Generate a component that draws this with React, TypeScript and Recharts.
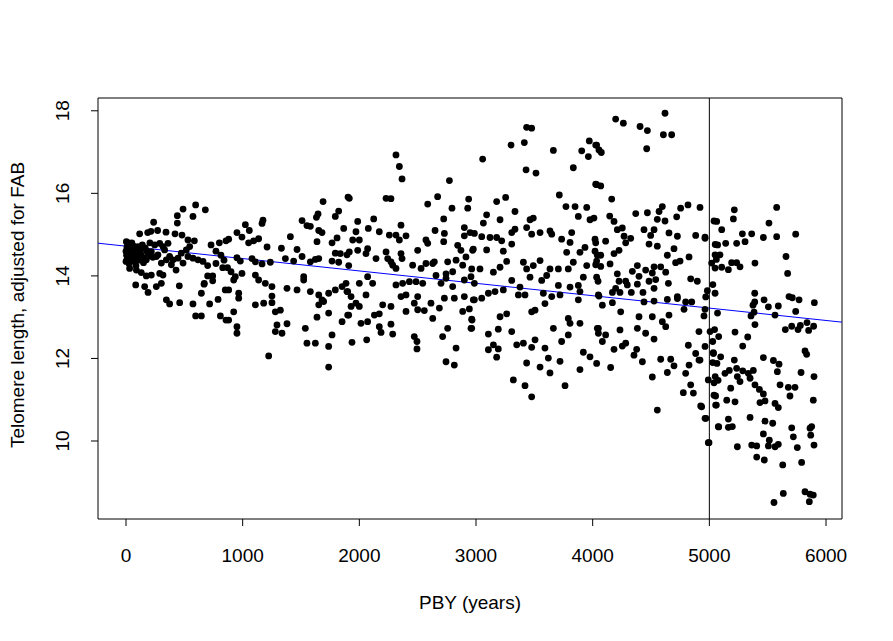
import React from 'react';
import {
  ScatterChart,
  Scatter,
  XAxis,
  YAxis,
  ReferenceLine,
  ReferenceArea,
  Label,
} from 'recharts';

// [PBY (years), telomere length adjusted for FAB]
const nearZero: [number, number][] = [
  [0, 14.35], [0, 14.6], [5, 14.5], [8, 14.7], [10, 14.4], [12, 14.65], [15, 14.55], [20, 14.45],
  [22, 14.8], [25, 14.3], [28, 14.62], [35, 14.5], [38, 14.68], [42, 14.38], [50, 14.8], [55, 14.45],
  [65, 14.72], [70, 14.35], [80, 14.58], [85, 14.25], [90, 14.66], [95, 14.5], [110, 14.38], [125, 14.62],
  [140, 14.75], [150, 14.32], [165, 14.68], [180, 14.6], [195, 14.48], [205, 14.8], [230, 14.45],
  [3, 14.83], [17, 14.79], [31, 14.75], [46, 14.63], [60, 14.59], [74, 14.55], [103, 14.71], [117, 14.47],
  [131, 14.51], [160, 14.43], [174, 14.39], [189, 14.55], [217, 14.59], [246, 14.75], [260, 14.47],
  [274, 14.51], [289, 14.79], [303, 14.31], [317, 14.71], [331, 14.63], [346, 14.39], [360, 14.79],
  [374, 14.47], [389, 14.27], [403, 14.39], [446, 14.43], [474, 14.55], [489, 14.31], [517, 14.63],
  [531, 14.47], [546, 14.71], [574, 14.43], [617, 14.39], [660, 14.35],
];

const firstMillennium: [number, number][] = [
  [597, 15.72], [680, 15.6], [489, 15.62], [574, 15.44], [440, 15.46], [440, 15.28], [237, 15.3],
  [117, 15.02], [186, 15.05], [214, 15.08], [271, 15.1], [343, 15.06], [420, 15.02], [480, 14.99],
  [586, 14.85], [531, 14.87], [729, 14.75], [800, 14.8], [857, 14.85], [771, 14.6], [814, 14.5],
  [700, 14.25], [771, 14.3], [829, 14.2], [700, 14.0], [743, 14.0], [743, 13.88], [671, 13.82],
  [457, 13.76], [83, 13.78], [160, 13.74], [189, 13.6], [260, 13.74], [303, 13.82], [174, 14.0],
  [217, 14.02], [289, 14.06], [317, 14.02], [31, 14.18], [89, 14.14], [131, 14.08], [429, 14.14],
  [346, 13.42], [374, 13.32], [460, 13.35], [574, 13.32], [717, 13.32], [789, 13.43], [646, 13.58],
  [669, 13.8], [597, 13.03], [646, 13.03], [809, 13.03], [857, 12.93],
];

const secondMillennium: [number, number][] = [
  [1903, 15.91], [1689, 15.8], [1823, 15.57], [1794, 15.44], [1646, 15.5], [1632, 15.42], [1509, 15.34],
  [1551, 15.22], [1580, 15.2], [1174, 15.35], [1166, 15.27], [1023, 15.24], [951, 15.05], [1057, 15.1],
  [880, 14.89], [994, 14.94], [1051, 14.8], [1094, 14.85], [1137, 14.9], [1209, 14.7], [1332, 14.67],
  [1466, 14.64], [1409, 14.95], [1652, 15.1], [1680, 15.05], [1637, 14.83], [1766, 14.8], [1809, 14.92],
  [1866, 15.15], [1794, 14.55], [1837, 14.54], [1894, 14.51], [840, 14.38], [870, 14.2], [900, 14.1],
  [951, 14.44], [980, 14.36], [1080, 14.42], [1109, 14.34], [1166, 14.29], [1237, 14.33], [1366, 14.42],
  [1437, 14.36], [1509, 14.47], [1580, 14.34], [1623, 14.4], [1652, 14.42], [1766, 14.36], [1823, 14.33],
  [1909, 14.25], [937, 13.98], [994, 14.06], [923, 13.9], [1109, 14.02], [1137, 13.9], [1194, 13.82],
  [1251, 13.74], [1380, 13.7], [1466, 13.66], [1523, 13.9], [1523, 13.98], [1580, 13.62], [1652, 13.54],
  [1680, 13.42], [1652, 13.3], [1694, 13.38], [1737, 13.58], [1794, 13.66], [1852, 13.74], [1894, 13.62],
  [851, 13.66], [880, 13.66], [966, 13.58], [966, 13.46], [1251, 13.51], [1109, 13.3], [1180, 13.34],
  [1251, 13.35], [1280, 13.13], [1323, 13.17], [923, 13.13], [880, 12.93], [951, 12.77], [951, 12.61],
  [1294, 12.81], [1280, 12.65], [1337, 12.61], [1380, 12.84], [1537, 12.73], [1551, 12.37], [1623, 12.37],
  [1737, 12.29], [1766, 12.57], [1852, 12.89], [1909, 13.05], [1737, 13.1], [1637, 13.0], [1223, 12.06],
  [1737, 11.79],
];

const thirdMillennium: [number, number][] = [
  [2314, 16.93], [2343, 16.65], [2366, 16.35], [2772, 16.31], [1914, 15.88], [2229, 15.88], [2271, 15.87],
  [2586, 15.74], [2671, 15.92], [2794, 15.64], [2929, 15.64], [2937, 15.86], [2723, 15.38], [2900, 15.17],
  [2986, 15.03], [1986, 15.32], [2123, 15.38], [2077, 15.15], [1971, 15.07], [2000, 14.87], [1943, 14.87],
  [2171, 15.07], [2257, 14.99], [2314, 14.99], [2357, 15.23], [2400, 14.97], [2343, 14.87], [2649, 15.1],
  [2729, 15.03], [2723, 14.83], [2571, 14.87], [2586, 14.79], [2843, 14.74], [2900, 14.97], [2871, 14.62],
  [2914, 14.46], [2971, 14.62], [1914, 14.58], [1986, 14.62], [2071, 14.66], [2057, 14.54], [2143, 14.42],
  [2229, 14.58], [2243, 14.42], [2357, 14.54], [2366, 14.42], [2271, 14.34], [2286, 14.26], [2314, 14.18],
  [2500, 14.62], [2457, 14.26], [2529, 14.18], [2571, 14.3], [2643, 14.34], [2757, 14.34], [2829, 14.38],
  [2886, 14.26], [2800, 14.1], [2743, 14.05], [1886, 13.82], [1900, 13.62], [1929, 13.5], [1971, 13.34],
  [2000, 13.82], [2071, 13.98], [2114, 13.82], [2314, 13.78], [2371, 13.82], [2429, 13.86], [2486, 13.86],
  [2543, 13.82], [2629, 14.3], [2657, 14.01], [2700, 13.82], [2743, 13.94], [2800, 13.74], [2900, 13.9],
  [2957, 13.98], [2986, 13.82], [2057, 13.54], [2000, 13.26], [1929, 13.26], [1900, 13.05], [2200, 13.3],
  [2271, 13.26], [2357, 13.5], [2400, 13.54], [2500, 13.5], [2471, 13.34], [2614, 13.34], [2729, 13.46],
  [2814, 13.46], [2900, 13.5], [2986, 13.42], [2129, 13.05], [2171, 13.08], [2400, 13.14], [2500, 13.18],
  [2557, 13.16], [2686, 13.22], [2886, 13.14], [2943, 13.2], [2014, 12.85], [2071, 12.89], [2171, 12.77],
  [2271, 12.83], [2286, 12.59], [2186, 12.63], [2471, 12.53], [2494, 12.41], [2494, 12.23], [2629, 12.97],
  [2714, 12.53], [2757, 12.73], [2829, 12.25], [2743, 11.92], [2814, 11.84], [2957, 12.73], [2966, 12.93],
  [1937, 12.39], [2063, 12.45],
];

const fourthMillennium: [number, number][] = [
  [3434, 17.6], [3477, 17.58], [3300, 17.17], [3414, 17.23], [3057, 16.83], [3663, 17.04], [3971, 17.27],
  [4034, 17.17], [3906, 17.03], [3963, 16.89], [3429, 16.57], [3514, 16.49], [3834, 16.62], [4034, 16.21],
  [3714, 15.96], [3771, 15.68], [3849, 15.68], [3949, 15.66], [3877, 15.44], [3977, 15.36], [3177, 15.8],
  [3254, 15.9], [3334, 15.56], [3091, 15.48], [3063, 15.28], [3206, 15.36], [3463, 15.36], [3491, 15.4],
  [2949, 15.05], [3049, 14.95], [3120, 14.93], [3177, 14.93], [3220, 14.85], [3306, 15.05], [3334, 15.13],
  [3434, 15.17], [3477, 15.01], [3549, 15.05], [3634, 15.09], [3649, 15.01], [3734, 14.89], [3806, 14.81],
  [3820, 15.05], [3934, 14.69], [4020, 14.6], [4034, 14.36], [4020, 14.89], [2977, 14.65], [3091, 14.63],
  [3234, 14.6], [3306, 14.77], [3406, 14.33], [3434, 14.17], [3491, 14.25], [3549, 14.37], [3634, 14.17],
  [3706, 14.17], [3777, 14.57], [3791, 14.17], [3891, 14.57], [3834, 14.33], [3949, 14.25], [2963, 14.17],
  [3034, 14.17], [3149, 14.09], [3206, 14.21], [3263, 14.35], [3306, 13.89], [3377, 13.73], [3463, 13.97],
  [3563, 13.89], [3606, 14.01], [3706, 13.77], [3806, 13.73], [3877, 13.77], [3920, 13.97], [4034, 13.97],
  [2977, 13.42], [3049, 13.46], [3106, 13.58], [3163, 13.62], [3234, 13.66], [3363, 13.54], [3420, 13.54],
  [3577, 13.58], [3649, 13.5], [3720, 13.54], [3877, 13.42], [3891, 13.62], [4049, 13.54], [2963, 12.95],
  [3206, 13.01], [3263, 13.08], [3477, 13.13], [3506, 13.17], [3591, 13.33], [3791, 12.97], [3806, 12.85],
  [3891, 12.85], [4049, 12.73], [4049, 12.61], [3106, 12.59], [3191, 12.71], [3306, 12.65], [3349, 12.33],
  [3406, 12.37], [3477, 12.27], [3506, 12.45], [3591, 12.25], [3663, 12.73], [3734, 12.41], [3791, 12.57],
  [3920, 12.15], [3977, 12.04], [4034, 11.88], [3106, 12.21], [3149, 12.33], [3191, 12.23], [3177, 12.03],
  [3434, 11.89], [3549, 11.79], [3620, 12.01], [3634, 11.65], [3720, 11.93], [3891, 11.73], [3763, 11.34],
  [3477, 11.07], [3320, 11.48], [3420, 11.34], [2963, 12.73],
];

const fifthMillennium: [number, number][] = [
  [4620, 17.94], [4197, 17.8], [4263, 17.7], [4406, 17.62], [4469, 17.52], [4606, 17.42], [4677, 17.42],
  [4463, 17.08], [4026, 17.17], [4054, 17.05], [4074, 16.99], [4026, 16.22], [4069, 16.18], [4163, 15.86],
  [4369, 15.51], [4469, 15.53], [4569, 15.56], [4597, 15.68], [4754, 15.64], [4817, 15.72], [4920, 15.66],
  [4720, 15.43], [4620, 15.33], [4554, 15.37], [4011, 15.4], [4146, 15.45], [4183, 15.32], [4211, 15.12],
  [4254, 15.16], [4269, 14.96], [4283, 14.8], [4111, 14.84], [4026, 14.8], [4440, 15.12], [4526, 15.12],
  [4497, 14.98], [4654, 15.04], [4726, 14.96], [4883, 14.98], [4963, 14.94], [4554, 14.72], [4697, 14.66],
  [4640, 14.5], [4826, 14.46], [4711, 14.32], [4749, 14.36], [4326, 14.91], [4483, 14.77], [4040, 14.5],
  [4069, 14.5], [4183, 14.54], [4226, 14.62], [4149, 14.29], [4026, 14.27], [4069, 14.23], [4211, 14.05],
  [4383, 14.25], [4454, 14.14], [4526, 14.22], [4583, 14.22], [4626, 14.09], [4511, 14.07], [4540, 13.91],
  [4483, 13.87], [4397, 13.99], [4340, 14.11], [4283, 13.87], [4297, 13.78], [4226, 13.87], [4197, 13.7],
  [4046, 13.87], [4169, 13.6], [4234, 13.6], [4331, 13.6], [4431, 13.6], [4383, 13.8], [4526, 13.7],
  [4649, 13.82], [4840, 13.93], [4897, 13.87], [4726, 13.5], [4054, 13.51], [4083, 13.29], [4169, 13.35],
  [4440, 13.37], [4526, 13.39], [4640, 13.43], [4726, 13.45], [4797, 13.37], [4849, 13.37], [4783, 13.19],
  [4963, 13.19], [4983, 13.64], [4240, 13.13], [4397, 13.01], [4511, 13.01], [4597, 12.89], [4626, 12.77],
  [4654, 13.05], [4040, 12.73], [4111, 12.57], [4083, 12.41], [4234, 12.69], [4383, 12.73], [4454, 12.61],
  [4526, 12.47], [4183, 12.22], [4254, 12.3], [4283, 12.37], [4377, 12.22], [4354, 12.08], [4426, 11.92],
  [4583, 11.98], [4669, 11.98], [4697, 11.82], [4820, 12.32], [4826, 11.84], [4883, 12.12], [4911, 11.96],
  [4911, 12.65], [4154, 11.78], [4511, 11.55], [4640, 11.66], [4797, 11.64], [4840, 11.36], [4777, 11.17],
  [4863, 11.16], [4926, 10.85], [4554, 10.75], [4963, 10.55], [4991, 9.96],
];

const lastCentury: [number, number][] = [
  [5040, 15.33], [5050, 14.76], [5060, 14.4], [5030, 13.79], [5070, 13.1], [5045, 12.7], [5080, 12.53],
  [5035, 12.12], [5065, 11.88], [5050, 11.56], [5075, 11.47], [5040, 11.11], [5060, 10.87], [5080, 10.34],
  [5214, 15.6], [5206, 15.38], [5577, 15.66], [5063, 15.32], [5106, 15.12], [5511, 15.28], [5283, 15.02],
  [5363, 15.02], [5463, 14.93], [5577, 14.95], [5740, 15.01], [5071, 14.75], [5140, 14.79], [5234, 14.79],
  [5306, 14.83], [5049, 14.51], [5091, 14.51], [5657, 14.47], [5391, 14.31], [5191, 14.32], [5234, 14.32],
  [5263, 14.22], [5020, 14.31], [5049, 14.19], [5106, 14.21], [5163, 14.15], [5671, 14.06], [4963, 14.91],
  [5049, 13.58], [4969, 13.49], [5389, 13.58], [5389, 13.37], [5469, 13.42], [5374, 13.29], [5383, 13.12],
  [5506, 13.25], [5591, 13.27], [5563, 13.05], [5683, 13.5], [5711, 13.47], [5769, 13.42], [5740, 13.14],
  [5900, 13.35], [5357, 13.03], [5391, 12.82], [4954, 13.03], [5651, 12.7], [5706, 12.78], [5760, 12.7],
  [5780, 12.8], [5837, 12.87], [5894, 12.78], [5851, 12.68], [5220, 12.64], [5329, 12.52], [5286, 12.3],
  [5820, 12.18], [5834, 12.1], [5006, 12.65], [5029, 12.41], [4963, 12.29], [5034, 12.14], [5097, 12.04],
  [4920, 11.96], [5029, 11.9], [5214, 11.96], [5463, 12.02], [5549, 11.95], [5597, 11.86], [5583, 11.68],
  [5786, 11.66], [5897, 11.56], [5134, 11.64], [5171, 11.71], [5234, 11.76], [5286, 11.7], [5240, 11.56],
  [5263, 11.44], [5334, 11.64], [5377, 11.71], [5349, 11.52], [5391, 11.36], [5429, 11.25], [5463, 11.14],
  [5434, 10.93], [5477, 10.97], [4991, 11.48], [5040, 11.41], [5183, 11.28], [5606, 11.36], [5677, 11.3],
  [5734, 11.3], [5691, 11.09], [5563, 10.91], [5591, 10.81], [4934, 10.83], [5054, 11.09], [5054, 10.87],
  [5149, 10.99], [5220, 10.95], [5891, 10.99], [5349, 10.57], [5477, 10.48], [5543, 10.43], [5163, 10.53],
  [5163, 10.33], [5197, 10.35], [5077, 10.35], [4971, 10.55], [5706, 10.32], [5720, 10.1], [5863, 10.31],
  [5877, 10.35], [5869, 10.14], [5897, 9.9], [5754, 9.84], [5463, 10.17], [5514, 10.02], [5591, 9.92],
  [5563, 9.86], [5506, 9.88], [5363, 9.9], [5406, 9.88], [5240, 9.86], [5406, 9.61], [5471, 9.54],
  [5629, 9.42], [5791, 9.48], [5634, 8.73], [5554, 8.51], [5820, 8.77], [5863, 8.71], [5857, 8.53],
  [5891, 8.69], [4997, 9.96],
];

const xTicks = [0, 1000, 2000, 3000, 4000, 5000, 6000];
const yTicks = [10, 12, 14, 16, 18];
const xDomain: [number, number] = [-240, 6137];
const yDomain: [number, number] = [8.11, 18.31];

// least-squares line as drawn on the plot (abline)
const fitIntercept = 14.72;
const fitSlope = -0.0003;
const cutoffYear = 5000;

const points = [
  ...nearZero,
  ...firstMillennium,
  ...secondMillennium,
  ...thirdMillennium,
  ...fourthMillennium,
  ...fifthMillennium,
  ...lastCentury,
].map(([x, y]) => ({ x, y }));

const FONT = '"Liberation Sans", Arial, Helvetica, sans-serif';
const FONT_SIZE = 19;

const XTick = ({ x, y, payload }: any) => (
  <text x={x} y={y + 36} textAnchor="middle" fontFamily={FONT} fontSize={FONT_SIZE} fill="#000">
    {payload.value}
  </text>
);

const YTick = ({ x, y, payload }: any) => (
  <text
    x={x - 22}
    y={y}
    transform={`rotate(-90 ${x - 22} ${y})`}
    textAnchor="middle"
    fontFamily={FONT}
    fontSize={FONT_SIZE}
    fill="#000"
  >
    {payload.value}
  </text>
);

const Dot = (props: any) => <circle cx={props.cx} cy={props.cy} r={3.4} fill="#000" />;

export default function App() {
  const fitLine = [
    { x: xDomain[0], y: fitIntercept + fitSlope * xDomain[0] },
    { x: xDomain[1], y: fitIntercept + fitSlope * xDomain[1] },
  ];

  return (
    <div style={{ position: 'absolute', left: 0, top: 0, width: 893, height: 641, background: '#fff' }}>
      <ScatterChart width={893} height={641} margin={{ top: 98, right: 51, bottom: 82, left: 38 }}>
        <XAxis
          type="number"
          dataKey="x"
          domain={xDomain}
          ticks={xTicks}
          interval={0}
          allowDataOverflow
          axisLine={false}
          tickLine={{ stroke: '#000' }}
          tickSize={7}
          tickMargin={0}
          height={40}
          tick={<XTick />}
        >
          <Label
            content={() => (
              <text x={470} y={609} textAnchor="middle" fontFamily={FONT} fontSize={FONT_SIZE} fill="#000">
                PBY (years)
              </text>
            )}
          />
        </XAxis>
        <YAxis
          type="number"
          dataKey="y"
          domain={yDomain}
          ticks={yTicks}
          interval={0}
          allowDataOverflow
          axisLine={false}
          tickLine={{ stroke: '#000' }}
          tickSize={7}
          tickMargin={0}
          width={60}
          tick={<YTick />}
        >
          <Label
            content={() => (
              <text
                x={24}
                y={305}
                transform="rotate(-90 24 305)"
                textAnchor="middle"
                fontFamily={FONT}
                fontSize={FONT_SIZE}
                fill="#000"
              >
                Telomere length, adjusted for FAB
              </text>
            )}
          />
        </YAxis>
        <Scatter data={points} shape={<Dot />} isAnimationActive={false} />
        <ReferenceLine segment={fitLine} stroke="#0000FF" strokeWidth={1} />
        <ReferenceLine x={cutoffYear} stroke="#000" strokeWidth={1} />
        <ReferenceArea
          x1={xDomain[0]}
          x2={xDomain[1]}
          y1={yDomain[0]}
          y2={yDomain[1]}
          fill="none"
          stroke="#000"
          strokeWidth={1}
        />
      </ScatterChart>
    </div>
  );
}
